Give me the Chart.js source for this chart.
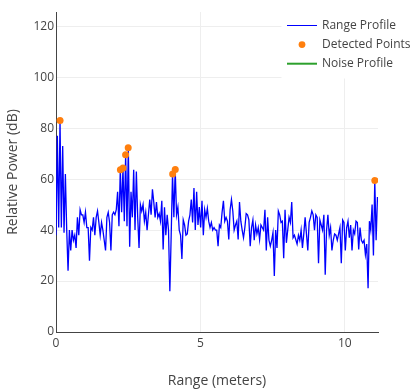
<!DOCTYPE html>
<html>
<head>
<meta charset="utf-8">
<script src="https://cdn.jsdelivr.net/npm/chart.js@4.4.1/dist/chart.umd.min.js"></script>
<style>
  html, body { margin: 0; padding: 0; background: #fff; }
  #wrap { width: 419px; height: 389px; }
</style>
</head>
<body>
<div id="wrap"><canvas id="myChart" width="419" height="389"></canvas></div>
<script>
// range bin spacing (meters)
const rangeStep = 0.04638;

// range profile, one value per range bin (dB)
const rangeProfile = [
  38, 77, 41, 83, 41, 73, 39, 62, 40, 24,
  40, 32, 40, 36, 38, 33, 45, 38, 48, 46,
  46, 43, 47, 41, 41, 28, 41, 40, 45, 38,
  45, 47.5, 43, 38, 43, 40, 36, 32, 45, 47,
  43, 32, 46, 47, 46, 48,
  55, 41.5, 63.7, 47, 64.4, 43.5, 69.6, 41.5, 72.3, 33.5,
  55, 45, 63.7, 40, 63, 45, 33, 50,
  47.5, 50, 43.5, 47, 40, 46, 52, 46, 56, 51,
  45, 51, 45, 46.5, 43.5, 51.5, 32.4, 49, 38, 46,
  40, 16, 38,
  62, 45, 63.8, 46, 49, 40, 38, 28.7, 44, 42,
  38, 38.5, 43.5, 46, 52, 43, 56.5, 40, 55, 42,
  49, 41, 51.5, 38, 48, 45, 48.5, 43.5, 41, 43,
  40, 41, 40, 40, 33.7, 42, 41, 47, 51.5, 43.5,
  45, 43.5, 36.3, 48, 52, 47.5, 40, 42, 43.5, 36.3,
  51, 43.5, 40, 37, 41, 46.5, 46, 44, 33.7, 41,
  44, 36, 42, 38.5, 41, 36.3, 42, 41, 40, 48,
  32, 45, 36, 33.7, 36, 39, 22, 40, 33, 47.5,
  46, 43, 43.5, 29, 48, 35, 40, 45, 43, 51,
  37, 38, 36.3, 34.5, 38, 36, 40, 33, 38.5, 45,
  38.5, 32, 43, 45, 47.5, 46, 40, 46, 45, 27,
  44, 42, 40, 46, 22.5, 40, 46, 38, 41, 32,
  36, 38.5, 38, 36, 38.5, 41, 27, 44, 43, 32,
  41, 43.5, 37, 42, 32, 40, 38.5, 43.5, 43, 32.4,
  41, 36, 35, 36, 30.4, 34.5, 17.2, 43.5, 40, 50,
  30, 59.5, 36, 53
];

// detected points
const detectedRange = [0.14, 2.23, 2.32, 2.41, 2.5, 4.04, 4.13, 11.04];
const detectedPower = [83, 63.7, 64.4, 69.6, 72.3, 62, 63.8, 59.5];

// noise profile (not shown in this capture)
const noiseProfile = [];

const xTicks = [0, 5, 10];
const yTicks = [0, 20, 40, 60, 80, 100, 120];

const legendNames = ['Range Profile', 'Detected Points', 'Noise Profile'];

Chart.defaults.font.family = '"Open Sans", verdana, arial, sans-serif';
Chart.defaults.font.size = 12;
Chart.defaults.color = '#444';

const profilePoints = rangeProfile.map((v, i) => ({ x: i * rangeStep, y: v }));
const detectedPoints = detectedRange.map((r, i) => ({ x: r, y: detectedPower[i] }));

// plotly-like legend in the top right corner
const plotlyLegend = {
  id: 'plotlyLegend',
  afterDraw(chart) {
    const ctx = chart.ctx;
    ctx.save();
    ctx.fillStyle = '#fff';
    ctx.fillRect(281.5, 0, 419 - 281.5, 78.5);
    ctx.font = '12px "Open Sans", verdana, arial, sans-serif';
    ctx.textBaseline = 'middle';
    const rows = [25.5, 44.6, 63.7];
    chart.data.datasets.forEach((ds, i) => {
      const y = rows[i];
      if (ds.showLine === false) {
        ctx.fillStyle = ds.backgroundColor;
        ctx.beginPath();
        ctx.arc(302, y, 3.4, 0, Math.PI * 2);
        ctx.fill();
      } else {
        ctx.strokeStyle = ds.borderColor;
        ctx.lineWidth = ds.legendWidth;
        ctx.beginPath();
        ctx.moveTo(287, y);
        ctx.lineTo(317, y);
        ctx.stroke();
      }
      ctx.fillStyle = '#444';
      ctx.fillText(ds.label, 322, y);
    });
    ctx.restore();
  }
};

new Chart(document.getElementById('myChart'), {
  type: 'scatter',
  data: {
    datasets: [{
      label: legendNames[0],
      data: profilePoints,
      showLine: true,
      borderColor: '#0000ff',
      backgroundColor: '#0000ff',
      borderWidth: 1.3,
      legendWidth: 1,
      pointRadius: 0,
      tension: 0,
      order: 2
    }, {
      label: legendNames[1],
      data: detectedPoints,
      showLine: false,
      backgroundColor: '#ff7f0e',
      borderColor: '#ff7f0e',
      pointRadius: 3.5,
      pointBorderWidth: 0,
      order: 1
    }, {
      label: legendNames[2],
      data: noiseProfile,
      showLine: true,
      borderColor: '#2ca02c',
      backgroundColor: '#2ca02c',
      borderWidth: 2,
      legendWidth: 2,
      pointRadius: 0,
      order: 3
    }]
  },
  options: {
    responsive: false,
    animation: false,
    layout: { padding: { left: 0, right: 41, top: 12, bottom: 0 } },
    plugins: {
      legend: { display: false },
      tooltip: { enabled: false }
    },
    scales: {
      x: {
        type: 'linear',
        min: 0,
        max: 11.15,
        afterBuildTicks: (scale) => { scale.ticks = xTicks.map(v => ({ value: v })); },
        afterFit: (scale) => { scale.height = 57; },
        grid: { color: '#eee', drawTicks: false },
        border: { color: '#444', width: 1 },
        ticks: { padding: 4, color: '#444', font: { size: 12 } },
        title: {
          display: true,
          text: 'Range (meters)',
          color: '#444',
          font: { size: 14 },
          padding: { top: 0, bottom: 0 }
        }
      },
      y: {
        min: 0,
        max: 125.6,
        afterBuildTicks: (scale) => { scale.ticks = yTicks.map(v => ({ value: v })); },
        afterFit: (scale) => { scale.width = 56; },
        grid: { color: '#eee', drawTicks: false },
        border: { color: '#444', width: 1 },
        ticks: { padding: 2, color: '#444', font: { size: 12 } },
        title: {
          display: true,
          text: 'Relative Power (dB)',
          color: '#444',
          font: { size: 14 },
          padding: { top: 5, bottom: 0 }
        }
      }
    }
  },
  plugins: [plotlyLegend]
});
</script>
</body>
</html>
